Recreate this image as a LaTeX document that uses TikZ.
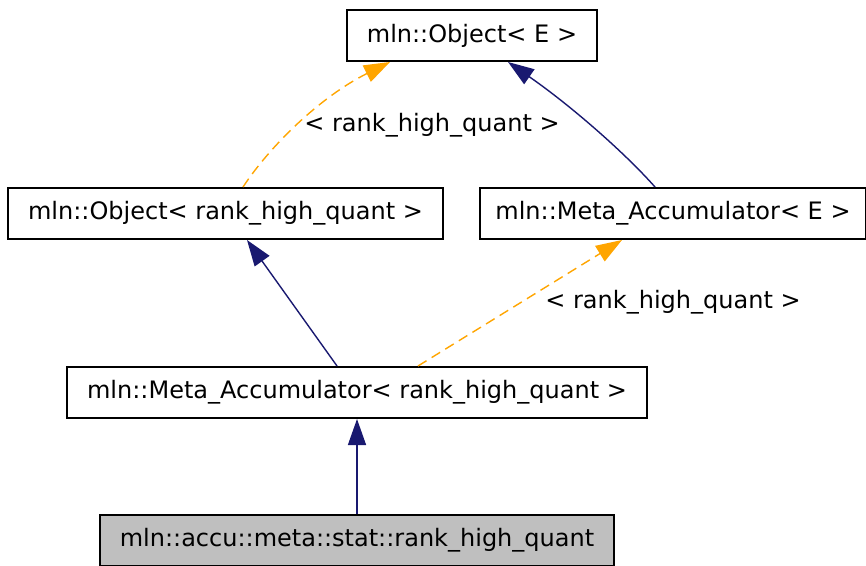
\documentclass[tikz,border=0pt]{standalone}
\usepackage{fontspec}
\setmainfont{DejaVu Sans}
\usetikzlibrary{arrows.meta, positioning}
\definecolor{inhblue}{HTML}{191970}
\definecolor{tmplorange}{HTML}{FFA500}
\definecolor{leafgray}{HTML}{BFBFBF}

\begin{document}
\begin{tikzpicture}[
    node distance=2cm,
    on grid,
    every node/.style={font=\fontsize{12}{14}\selectfont},
    cls/.style={draw=black, line width=1pt, minimum height=25.5pt, inner xsep=10pt, fill=white},
    inherit/.style={draw=inhblue, line width=0.7pt, -{Triangle[length=13pt, width=9pt]}},
    instance/.style={draw=tmplorange, line width=0.7pt, dash pattern=on 5pt off 3pt, -{Triangle[length=13pt, width=9pt]}}
]
   \useasboundingbox (0,0) rectangle (433pt,-283pt);

   % Classes
   \node[cls] (objE) at (236pt,-17.75pt) {mln::Object< E >};
   \node[cls] (objR) [below left=89pt and 123.25pt of objE] {mln::Object< rank\_high\_quant >};
   \node[cls, inner xsep=7.5pt] (metaE) [right=223.75pt of objR] {mln::Meta\_Accumulator< E >};
   \node[cls] (metaR) [below right=89.5pt and 65.75pt of objR] {mln::Meta\_Accumulator< rank\_high\_quant >};
   \node[cls, fill=leafgray] (leaf) [below=74pt of metaR] {mln::accu::meta::stat::rank\_high\_quant};

   % Template labels
   \node (lblTop) [below left=44.75pt and 20pt of objE] {< rank\_high\_quant >};
   \node (lblMid) [below=44.5pt of metaE] {< rank\_high\_quant >};

   % Inheritance
   \draw[instance] ([xshift=8.75pt]objR.north) .. controls +(13.5pt,20.5pt) and +(-35pt,-17.5pt) .. ([xshift=-41pt]objE.south);
   \draw[inherit] ([xshift=-9pt]metaE.north) .. controls +(-15.5pt,17.5pt) and +(31pt,-21.5pt) .. ([xshift=18pt]objE.south);
   \draw[inherit] ([xshift=-10pt]metaR.north) -- ([xshift=10.75pt]objR.south);
   \draw[instance] ([xshift=30.5pt]metaR.north) -- ([xshift=-25.5pt]metaE.south);
   \draw[inherit] (leaf) -- (metaR);
\end{tikzpicture}
\end{document}
